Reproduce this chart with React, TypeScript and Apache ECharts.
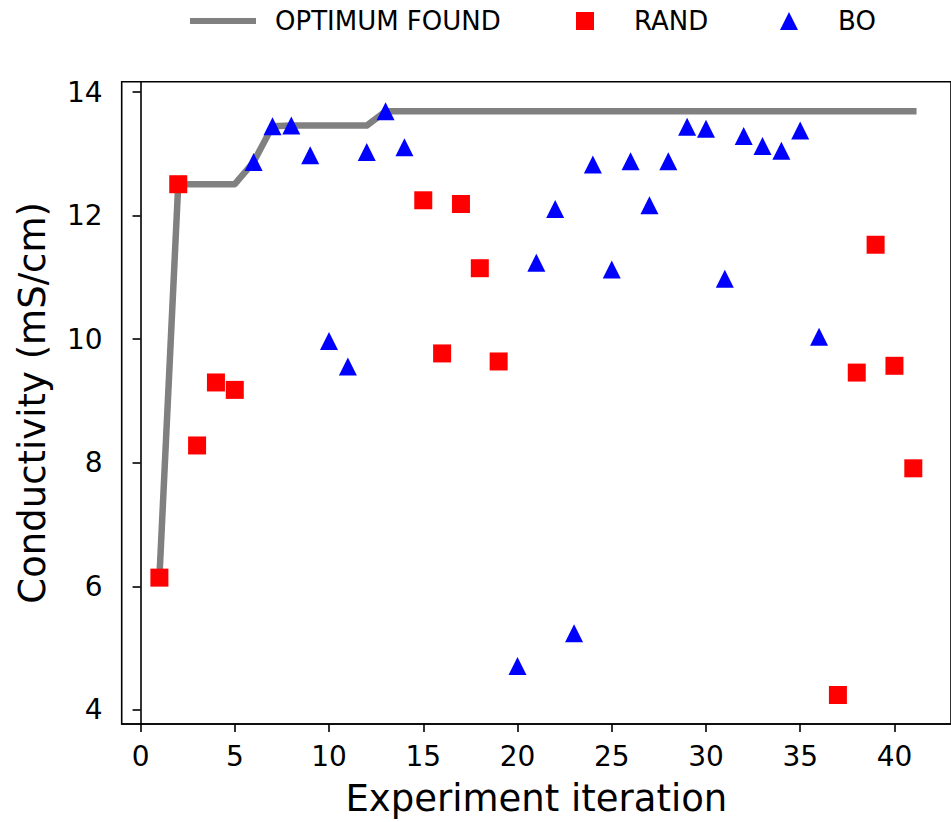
import React, { useEffect, useRef } from "react";
import * as echarts from "echarts";

const FONT = "DejaVu Sans";

const randX = [1, 2, 3, 4, 5, 15, 16, 17, 18, 19, 37, 38, 39, 40, 41];
const randY = [6.14, 12.51, 8.28, 9.30, 9.18, 12.25, 9.77, 12.19, 11.15, 9.64, 4.24, 9.46, 11.53, 9.57, 7.91];

const boX = [6, 7, 8, 9, 10, 11, 12, 13, 14, 20, 21, 22, 23, 24, 25, 26, 27, 28, 29, 30, 31, 32, 33, 34, 35, 36];
const boY = [12.87, 13.45, 13.46, 12.98, 9.97, 9.56, 13.03, 13.69, 13.11, 4.71, 11.24, 12.11, 5.24, 12.83, 11.13, 12.88, 12.17, 12.88, 13.44, 13.41, 10.98, 13.29, 13.13, 13.05, 13.38, 10.04];

const optX = [1, 2, 3, 4, 5, 6, 7, 8, 9, 10, 11, 12, 13, 14, 15, 16, 17, 18, 19, 20, 21, 22, 23, 24, 25, 26, 27, 28, 29, 30, 31, 32, 33, 34, 35, 36, 37, 38, 39, 40, 41];
const optY = [6.14, 12.51, 12.51, 12.51, 12.51, 12.87, 13.45, 13.46, 13.46, 13.46, 13.46, 13.46, 13.69, 13.69, 13.69, 13.69, 13.69, 13.69, 13.69, 13.69, 13.69, 13.69, 13.69, 13.69, 13.69, 13.69, 13.69, 13.69, 13.69, 13.69, 13.69, 13.69, 13.69, 13.69, 13.69, 13.69, 13.69, 13.69, 13.69, 13.69, 13.69];

const xTicks = [0, 5, 10, 15, 20, 25, 30, 35, 40];
const yTicks = [4, 6, 8, 10, 12, 14];

export default function App() {
  const ref = useRef<HTMLDivElement>(null);
  useEffect(() => {
    if (!ref.current) return;
    const chart = echarts.init(ref.current, null, { renderer: "svg" });
    const legendText = (pad: number) => ({
      fontFamily: FONT,
      fontSize: 26,
      color: "#000",
      padding: [0, 0, 0, pad],
    });
    chart.setOption({
      animation: false,
      backgroundColor: "#fff",
      grid: {
        left: 121.7,
        top: 81.7,
        width: 831.6,
        height: 643.3,
        show: true,
        borderColor: "#000",
        borderWidth: 1.6,
        backgroundColor: "transparent",
      },
      legend: [
        {
          data: [{ name: "OPTIMUM FOUND", icon: "rect" }],
          left: 190,
          top: 8,
          padding: 0,
          itemWidth: 66,
          itemHeight: 6,
          selectedMode: false,
          itemStyle: { color: "#808080" },
          textStyle: legendText(14),
        },
        {
          data: [{ name: "RAND", icon: "rect" }],
          left: 576,
          top: 8,
          padding: 0,
          itemWidth: 18,
          itemHeight: 18,
          selectedMode: false,
          textStyle: legendText(35),
        },
        {
          data: [{ name: "BO", icon: "triangle" }],
          left: 780,
          top: 8,
          padding: 0,
          itemWidth: 18,
          itemHeight: 18,
          selectedMode: false,
          textStyle: legendText(35),
        },
      ],
      xAxis: {
        type: "value",
        min: -1,
        max: 43,
        name: "Experiment iteration",
        nameLocation: "middle",
        nameGap: 56,
        nameTextStyle: { fontFamily: FONT, fontSize: 37, color: "#000" },
        splitLine: { show: false },
        axisLine: { show: true, lineStyle: { color: "#000", width: 1.6 } },
        axisTick: {
          show: true,
          inside: false,
          length: 8,
          lineStyle: { color: "#000", width: 1.6 },
          customValues: xTicks,
        },
        axisLabel: {
          fontFamily: FONT,
          fontSize: 28,
          color: "#000",
          margin: 18,
          customValues: xTicks,
        },
      },
      yAxis: {
        type: "value",
        min: 3.77,
        max: 14.17,
        name: "Conductivity (mS/cm)",
        nameLocation: "middle",
        nameGap: 71,
        nameRotate: 90,
        nameTextStyle: { fontFamily: FONT, fontSize: 37, color: "#000" },
        splitLine: { show: false },
        axisLine: { show: true, lineStyle: { color: "#000", width: 1.6 } },
        axisTick: {
          show: true,
          inside: false,
          length: 8,
          lineStyle: { color: "#000", width: 1.6 },
          customValues: yTicks,
        },
        axisLabel: {
          fontFamily: FONT,
          fontSize: 28,
          color: "#000",
          margin: 19,
          customValues: yTicks,
        },
      },
      series: [
        {
          name: "OPTIMUM FOUND",
          type: "line",
          data: optX.map((x, i) => [x, optY[i]]),
          showSymbol: false,
          symbol: "none",
          itemStyle: { color: "#808080" },
          lineStyle: { color: "#808080", width: 6.5, cap: "square", join: "round" },
          z: 1,
        },
        {
          name: "RAND",
          type: "scatter",
          data: randX.map((x, i) => [x, randY[i]]),
          symbol: "rect",
          symbolSize: 18,
          itemStyle: { color: "#ff0000", opacity: 1 },
          z: 3,
        },
        {
          name: "BO",
          type: "scatter",
          data: boX.map((x, i) => [x, boY[i]]),
          symbol: "triangle",
          symbolSize: 18,
          itemStyle: { color: "#0000ff", opacity: 1 },
          z: 3,
        },
      ],
    });
    return () => chart.dispose();
  }, []);
  return (
    <div
      ref={ref}
      style={{ position: "fixed", left: 0, top: 0, width: 951, height: 822 }}
    />
  );
}
